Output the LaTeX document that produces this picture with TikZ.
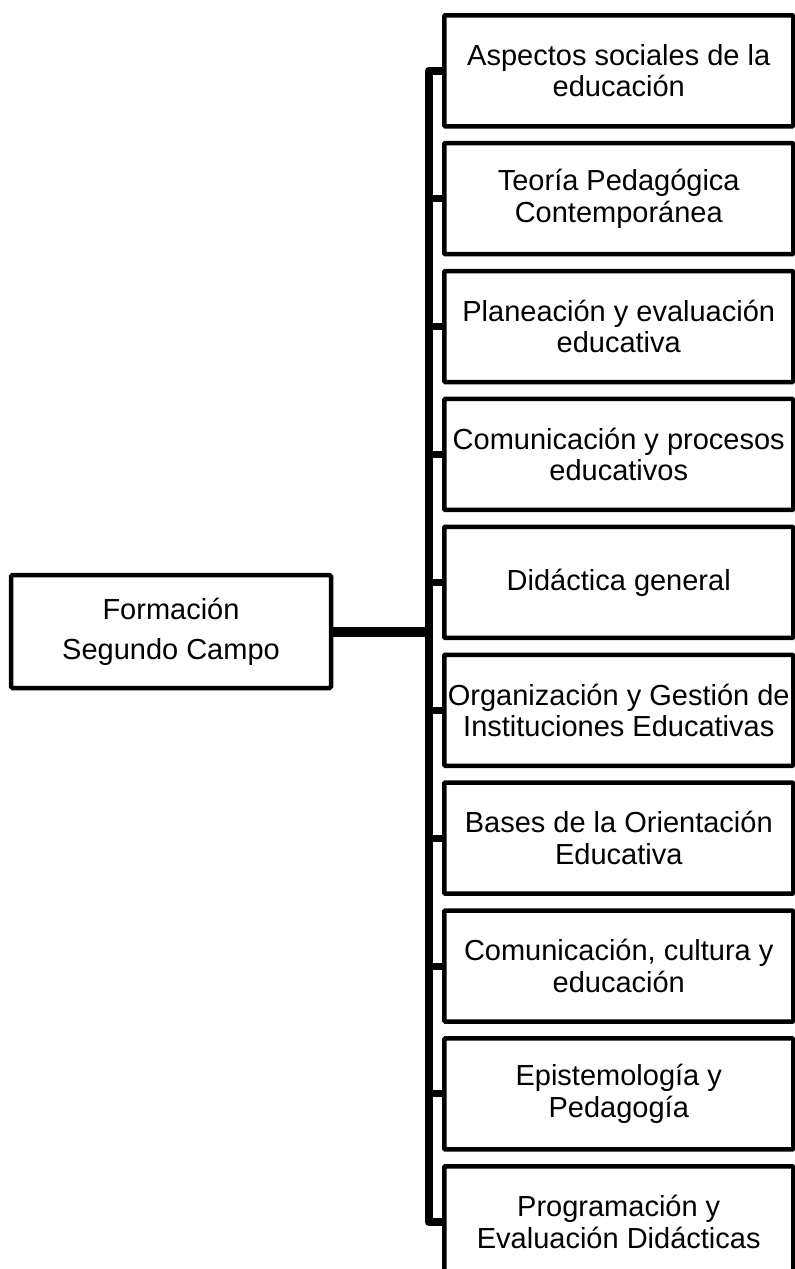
\documentclass[tikz,border=0pt]{standalone}
\usepackage{fontspec}
\setmainfont{Liberation Sans}
\pgfdeclarelayer{bg}
\pgfsetlayers{bg,main}
\begin{document}
\begin{tikzpicture}[x=1pt,y=-1pt,
  box/.style={draw=black, line width=4.5pt, fill=white, minimum width=349pt,
    minimum height=111pt, inner sep=0pt, align=center,
    font=\fontsize{29}{31.5}\selectfont, rounded corners=1pt, anchor=north west},
  rootbox/.style={draw=black, line width=4.5pt, fill=white, minimum width=320pt,
    minimum height=113pt, inner sep=0pt, align=center,
    font=\fontsize{29}{40}\selectfont, rounded corners=1.5pt},
  conn/.style={line width=8pt, line join=round},
  stub/.style={line width=7pt},
  mainconn/.style={line width=10pt},
  shade/.style={black!40, opacity=0.6, shift={(3pt,-3pt)}}]
\useasboundingbox (0,0) rectangle (795,1269);
\node[rootbox] (L) at (171,631.5) {Formación\\Segundo Campo};
\foreach \t [count=\i] in {
  {Aspectos sociales de la\\educación},
  {Teoría Pedagógica\\Contemporánea},
  {Planeación y evaluación\\educativa},
  {Comunicación y procesos\\educativos},
  {Didáctica general},
  {Organización y Gestión de\\Instituciones Educativas},
  {Bases de la Orientación\\Educativa},
  {Comunicación, cultura y\\educación},
  {Epistemología y\\Pedagogía},
  {Programación y\\Evaluación Didácticas}}
  \node[box] (b\i) at (442,{13+127.9*(\i-1)}) {\t};
\coordinate (bar) at (429,0);
\begin{pgfonlayer}{bg}
  % shadows
  \draw[conn,shade] (b1.west) -- (bar |- b1.west) -- (bar |- b10.west) -- (b10.west);
  \draw[mainconn,shade] (L.east) -- (L.east -| bar);
  \foreach \i in {2,...,9} \draw[stub,shade] (bar |- b\i.west) -- (b\i.west);
  % connectors
  \draw[conn] (b1.west) -- (bar |- b1.west) -- (bar |- b10.west) -- (b10.west);
  \draw[mainconn] (L.east) -- (L.east -| bar);
  \foreach \i in {2,...,9} \draw[stub] (bar |- b\i.west) -- (b\i.west);
\end{pgfonlayer}
\end{tikzpicture}
\end{document}
